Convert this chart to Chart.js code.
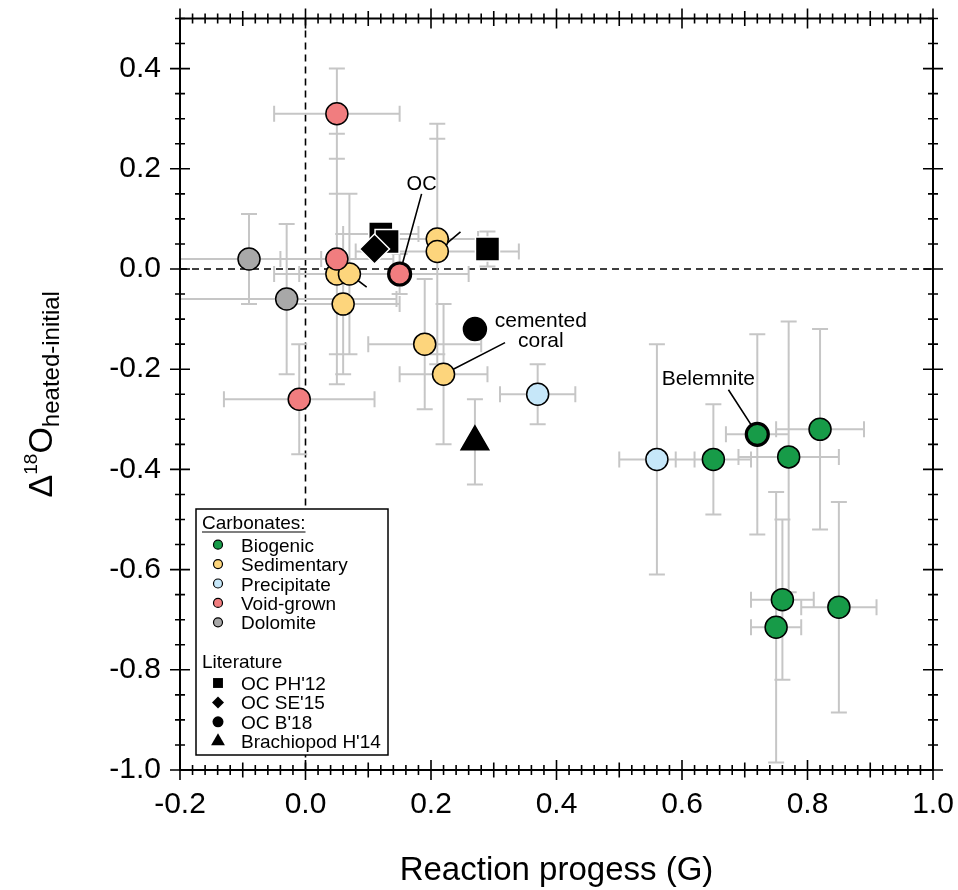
<!DOCTYPE html>
<html>
<head>
<meta charset="utf-8">
<script src="https://cdn.jsdelivr.net/npm/chart.js@4.4.0/dist/chart.umd.min.js"></script>
<style>
  html, body { margin: 0; padding: 0; background: #fff; }
  #wrap { width: 958px; height: 890px; }
</style>
</head>
<body>
<div id="wrap"><canvas id="chart" width="958" height="890"></canvas></div>
<script>
// values: x = reaction progress G, y = change in D18O (heated - initial)

// carbonates
const biogenicX    = [0.65, 0.72, 0.77, 0.82, 0.76, 0.75, 0.85];
const biogenicY    = [-0.38, -0.33, -0.375, -0.32, -0.66, -0.715, -0.675];
const biogenicXErr = [0.06, 0.05, 0.08, 0.07, 0.05, 0.04, 0.06];
const biogenicYErr = [0.11, 0.20, 0.27, 0.20, 0.16, 0.27, 0.21];

const sedimentaryX    = [0.05, 0.07, 0.06, 0.21, 0.21, 0.19, 0.22];
const sedimentaryY    = [-0.01, -0.01, -0.07, 0.06, 0.035, -0.15, -0.21];
const sedimentaryXErr = [0.10, 0.08, 0.09, 0.065, 0.13, 0.09, 0.07];
const sedimentaryYErr = [0.16, 0.16, 0.14, 0.23, 0.225, 0.13, 0.14];

const precipitateX    = [0.37, 0.56];
const precipitateY    = [-0.25, -0.38];
const precipitateXErr = [0.06, 0.06];
const precipitateYErr = [0.06, 0.23];

const voidX    = [0.05, 0.05, 0.15, -0.01];
const voidY    = [0.31, 0.02, -0.01, -0.26];
const voidXErr = [0.10, 0.09, 0.11, 0.12];
const voidYErr = [0.09, 0.25, 0.04, 0.11];

const dolomiteX    = [-0.09, -0.03];
const dolomiteY    = [0.02, -0.06];
const dolomiteXErr = [0.115, 0.175];
const dolomiteYErr = [0.09, 0.15];

// literature
const ph12X    = [0.12, 0.13, 0.29];
const ph12Y    = [0.07, 0.055, 0.04];
const ph12XErr = [0.06, 0, 0];
const ph12YErr = [0, 0, 0.035];

const se15X = [0.11];
const se15Y = [0.04];

const b18X = [0.27];
const b18Y = [-0.12];

const h14X    = [0.27];
const h14Y    = [-0.345];
const h14YErr = [0.085];

// axes
const xMin = -0.2, xMax = 1.0, xStep = 0.2;
const yMin = -1.0, yMax = 0.5, yStep = 0.2;

// labels pointing at single samples (text pos, line from, line to) in data units
const notes = [
  { text: ['OC'], at: [0.185, 0.158], from: [0.185, 0.15], to: [0.15, -0.01], size: 20 },
  { text: ['cemented', 'coral'], at: [0.375, -0.115], from: [0.318, -0.147], to: [0.22, -0.21], size: 21 },
  { text: ['Belemnite'], at: [0.642, -0.231], from: [0.674, -0.241], to: [0.72, -0.33], size: 21 },
  { text: [], from: [0.0975, -0.036], to: [0.07, -0.01] },
  { text: [], from: [0.247, 0.074], to: [0.21, 0.035] }
];

const FONT = '"Liberation Sans", Arial, Helvetica, sans-serif';
Chart.defaults.font.family = FONT;

const pts = (xs, ys) => xs.map((v, i) => ({ x: v, y: ys[i] }));

function series(label, xs, ys, xErr, yErr, color, style, r, border, group, order) {
  return {
    label, group, order,
    data: pts(xs, ys),
    xErr: xErr || [], yErr: yErr || [],
    pointStyle: style,
    pointRadius: r,
    pointBackgroundColor: color,
    pointBorderColor: border.color,
    pointBorderWidth: border.width,
    showLine: false
  };
}

const black = { color: '#000', width: 1.5 };
const white = { color: '#fff', width: 1.5 };

const datasets = [
  series('Void-grown', voidX, voidY, voidXErr, voidYErr, '#f17d7f', 'circle', 11,
    { color: '#000', width: c => c.dataIndex === 2 ? 3.2 : 1.5 }, 'carb', 0),
  series("OC SE'15", se15X, se15Y, null, null, '#000', 'rectRot', 15, white, 'lit', 1),
  series("OC PH'12", ph12X, ph12Y, ph12XErr, ph12YErr, '#000', 'rect', 17, white, 'lit', 2),
  series("OC B'18", b18X, b18Y, null, null, '#000', 'circle', 11.5, black, 'lit', 3),
  series("Brachiopod H'14", h14X, h14Y, null, h14YErr, '#000', 'triangle', 16, black, 'lit', 4),
  series('Biogenic', biogenicX, biogenicY, biogenicXErr, biogenicYErr, '#179b48', 'circle', 11,
    { color: '#000', width: c => c.dataIndex === 1 ? 3.2 : 1.5 }, 'carb', 5),
  series('Sedimentary', sedimentaryX, sedimentaryY, sedimentaryXErr, sedimentaryYErr, '#fdd57c', 'circle', 11, black, 'carb', 6),
  series('Precipitate', precipitateX, precipitateY, precipitateXErr, precipitateYErr, '#c6e7f9', 'circle', 11, black, 'carb', 7),
  series('Dolomite', dolomiteX, dolomiteY, dolomiteXErr, dolomiteYErr, '#a8a8a8', 'circle', 11, black, 'carb', 8)
];

const legendOrder = ['Biogenic', 'Sedimentary', 'Precipitate', 'Void-grown', 'Dolomite'];
const literatureOrder = ["OC PH'12", "OC SE'15", "OC B'18", "Brachiopod H'14"];

// dashed zero lines, error bars and pointer lines under the markers
const underlay = {
  id: 'underlay',
  beforeDatasetsDraw(chart) {
    const { ctx, chartArea: a, scales: { x, y } } = chart;
    ctx.save();
    ctx.beginPath();
    ctx.rect(a.left, a.top, a.width, a.height);
    ctx.clip();

    ctx.strokeStyle = '#000';
    ctx.lineWidth = 1.6;
    ctx.setLineDash([7, 5]);
    ctx.beginPath();
    const x0 = x.getPixelForValue(0), y0 = y.getPixelForValue(0);
    ctx.moveTo(x0, a.top); ctx.lineTo(x0, a.bottom);
    ctx.moveTo(a.left, y0); ctx.lineTo(a.right, y0);
    ctx.stroke();
    ctx.setLineDash([]);

    ctx.strokeStyle = '#c6c6c6';
    ctx.lineWidth = 2;
    const cap = 8;
    ctx.beginPath();
    chart.data.datasets.forEach(ds => {
      ds.data.forEach((p, i) => {
        const px = x.getPixelForValue(p.x), py = y.getPixelForValue(p.y);
        const xe = ds.xErr[i], ye = ds.yErr[i];
        if (xe) {
          const l = x.getPixelForValue(p.x - xe), r = x.getPixelForValue(p.x + xe);
          ctx.moveTo(l, py); ctx.lineTo(r, py);
          ctx.moveTo(l, py - cap); ctx.lineTo(l, py + cap);
          ctx.moveTo(r, py - cap); ctx.lineTo(r, py + cap);
        }
        if (ye) {
          const t = y.getPixelForValue(p.y + ye), b = y.getPixelForValue(p.y - ye);
          ctx.moveTo(px, t); ctx.lineTo(px, b);
          ctx.moveTo(px - cap, t); ctx.lineTo(px + cap, t);
          ctx.moveTo(px - cap, b); ctx.lineTo(px + cap, b);
        }
      });
    });
    ctx.stroke();

    ctx.strokeStyle = '#000';
    ctx.lineWidth = 1.6;
    ctx.beginPath();
    notes.forEach(n => {
      ctx.moveTo(x.getPixelForValue(n.from[0]), y.getPixelForValue(n.from[1]));
      ctx.lineTo(x.getPixelForValue(n.to[0]), y.getPixelForValue(n.to[1]));
    });
    ctx.stroke();
    ctx.restore();
  }
};

// note texts and the boxed legend
const overlay = {
  id: 'overlay',
  afterDatasetsDraw(chart) {
    const { ctx, chartArea: a, scales: { x, y } } = chart;
    ctx.save();
    ctx.fillStyle = '#000';
    ctx.textAlign = 'center';
    ctx.textBaseline = 'alphabetic';
    notes.forEach(n => {
      if (!n.text.length) return;
      ctx.font = n.size + 'px ' + FONT;
      const cx = x.getPixelForValue(n.at[0]);
      const by = y.getPixelForValue(n.at[1]);
      n.text.forEach((t, k) => ctx.fillText(t, cx, by + k * 20));
    });

    // legend box
    const left = a.left + 16, top = a.top + 490.5, w = 192, h = 246;
    ctx.fillStyle = '#fff';
    ctx.fillRect(left, top, w, h);
    ctx.strokeStyle = '#000';
    ctx.lineWidth = 1.5;
    ctx.strokeRect(left, top, w, h);

    ctx.textAlign = 'left';
    ctx.fillStyle = '#000';
    ctx.font = '19px ' + FONT;
    const head = 'Carbonates:';
    ctx.fillText(head, left + 6, top + 20);
    const hw = ctx.measureText(head).width;
    ctx.lineWidth = 1.2;
    ctx.beginPath();
    ctx.moveTo(left + 6, top + 23); ctx.lineTo(left + 6 + hw, top + 23);
    ctx.stroke();
    ctx.fillText('Literature', left + 6, top + 159);

    const byLabel = {};
    chart.data.datasets.forEach(ds => { byLabel[ds.label] = ds; });
    const mark = (ds, my) => {
      const lit = ds.group === 'lit';
      const sizes = { circle: lit ? 5.5 : 4.5, rect: 7, rectRot: 6, triangle: 8 };
      ctx.fillStyle = ds.pointBackgroundColor;
      ctx.strokeStyle = '#000';
      ctx.lineWidth = 1.2;
      Chart.helpers.drawPoint(ctx, {
        pointStyle: ds.pointStyle, radius: sizes[ds.pointStyle], rotation: 0,
        borderWidth: lit ? 0 : 1.2
      }, left + 22, my);
      ctx.fillStyle = '#000';
      ctx.fillText(ds.label, left + 45, my + 7);
    };
    legendOrder.forEach((lab, i) => mark(byLabel[lab], top + 35.7 + i * 19.4));
    literatureOrder.forEach((lab, i) => mark(byLabel[lab], top + 174 + i * 19.4));
    ctx.restore();
  }
};

// box frame with ticks on all four sides, y title with super/subscript, x title
const frame = {
  id: 'frame',
  afterDraw(chart) {
    const { ctx, chartArea: a, scales: { x, y } } = chart;
    ctx.save();
    ctx.strokeStyle = '#000';
    ctx.lineWidth = 2;
    ctx.strokeRect(a.left, a.top, a.width, a.height);
    ctx.lineWidth = 1.6;
    ctx.beginPath();
    for (let k = Math.round(xMin / 0.02); k <= Math.round(xMax / 0.02); k++) {
      const px = x.getPixelForValue(k * 0.02);
      const len = k % 10 === 0 ? 10 : (k % 5 === 0 ? 7.5 : 5);
      ctx.moveTo(px, a.bottom - len); ctx.lineTo(px, a.bottom + len);
      ctx.moveTo(px, a.top - len); ctx.lineTo(px, a.top + len);
    }
    for (let k = Math.round(yMin / 0.05); k <= Math.round(yMax / 0.05); k++) {
      const py = y.getPixelForValue(k * 0.05);
      const len = k % 4 === 0 ? 10 : 5;
      ctx.moveTo(a.left - len, py); ctx.lineTo(a.left + len, py);
      ctx.moveTo(a.right - len, py); ctx.lineTo(a.right + len, py);
    }
    ctx.stroke();

    ctx.fillStyle = '#000';
    ctx.textBaseline = 'alphabetic';
    ctx.textAlign = 'center';
    ctx.font = '33px ' + FONT;
    ctx.fillText('Reaction progess (G)', (a.left + a.right) / 2, 880);

    // rotated y title: Δ ^18 O _heated-initial
    const parts = [
      { t: '\u0394', size: 34, dy: 0 },
      { t: '18', size: 19, dy: -15 },
      { t: 'O', size: 34, dy: 0 },
      { t: 'heated-initial', size: 24, dy: 7 }
    ];
    ctx.textAlign = 'left';
    let total = 0;
    parts.forEach(p => { ctx.font = p.size + 'px ' + FONT; p.w = ctx.measureText(p.t).width; total += p.w; });
    const cy = (a.top + a.bottom) / 2;
    ctx.translate(52, cy + total / 2);
    ctx.rotate(-Math.PI / 2);
    let cx = 0;
    parts.forEach(p => {
      ctx.font = p.size + 'px ' + FONT;
      ctx.fillText(p.t, cx, p.dy);
      cx += p.w;
    });
    ctx.restore();
  }
};

const fmt = v => (Math.abs(v) < 1e-9 ? '0.0' : v.toFixed(1));

new Chart(document.getElementById('chart'), {
  type: 'scatter',
  data: { datasets },
  options: {
    responsive: false,
    animation: false,
    events: [],
    layout: { padding: { top: 15.5, right: 25, bottom: 0, left: 0 } },
    plugins: { legend: { display: false }, tooltip: { enabled: false } },
    scales: {
      x: {
        type: 'linear', min: xMin, max: xMax,
        grid: { display: false, drawTicks: false },
        border: { display: false },
        ticks: {
          stepSize: xStep, includeBounds: false, maxRotation: 0, autoSkip: false,
          padding: 17, color: '#000', font: { size: 30 }, callback: fmt
        },
        afterFit: s => { s.height = 120; s.paddingLeft = 0; s.paddingRight = 0; }
      },
      y: {
        type: 'linear', min: yMin, max: yMax,
        grid: { display: false, drawTicks: false },
        border: { display: false },
        ticks: {
          stepSize: yStep, includeBounds: false, autoSkip: false,
          padding: 19, color: '#000', font: { size: 30 }, callback: fmt
        },
        afterFit: s => { s.width = 180; s.paddingTop = 0; s.paddingBottom = 0; }
      }
    }
  },
  plugins: [underlay, overlay, frame]
});
</script>
</body>
</html>
